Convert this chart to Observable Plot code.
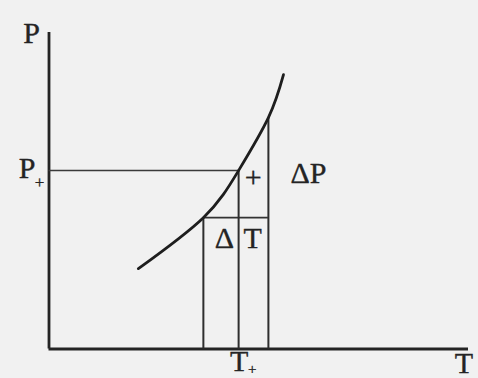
<!DOCTYPE html>
<html>
<head>
<meta charset="utf-8">
<script src="https://cdn.jsdelivr.net/npm/d3@7"></script>
<script src="https://cdn.jsdelivr.net/npm/@observablehq/plot@0.6"></script>
<style>
  html, body { margin: 0; padding: 0; background: #f1f1f1; overflow: hidden; }
  #chart svg { display: block; }
</style>
</head>
<body>
<div id="chart"></div>
<script>
// Vapour-pressure curve P(T) on arbitrary 0–100 axes
const curveT = [21.3, 36.8, 45.2, 52.3, 55.9];
const curveP = [25.4, 41.5, 56.4, 73.1, 86.7];

// Three temperatures bracketing T+ and the pressures on the curve there
const T1 = 36.8, Tplus = 45.2, T2 = 52.3;
const P1 = 41.5, Pplus = 56.4, P2 = 73.1;

const curve = curveT.map((t, i) => ({T: t, P: curveP[i]}));
const verticals = [{T: T1, P: P1}, {T: Tplus, P: Pplus}, {T: T2, P: P2}];

const ink = "#242424";
const font = "Liberation Serif, Times New Roman, serif";

const label = (x, y, text, dx, dy, size = 30) =>
  Plot.text([0], {
    x: () => x, y: () => y, text: () => text,
    dx, dy, fontSize: size, fontFamily: font, fill: ink,
    stroke: ink, strokeWidth: 0.35,
    textAnchor: "middle", lineAnchor: "middle"
  });

const chart = Plot.plot({
  width: 478,
  height: 378,
  marginLeft: 48.5,
  marginRight: 10,
  marginTop: 32,
  marginBottom: 29.5,
  style: {background: "transparent", overflow: "visible"},
  x: {domain: [0, 100], axis: null},
  y: {domain: [0, 100], axis: null},
  marks: [
    // axes
    Plot.ruleX([0], {y1: 0, y2: 100, stroke: ink, strokeWidth: 2.8}),
    Plot.ruleY([0], {x1: 0, x2: 100, stroke: ink, strokeWidth: 2.8}),
    // P+ level out to the curve
    Plot.ruleY([Pplus], {x1: 0, x2: Tplus, stroke: "#3a3a3a", strokeWidth: 1.6}),
    // ΔT step between T1 and T2
    Plot.ruleY([P1], {x1: T1, x2: T2, stroke: "#333", strokeWidth: 1.8}),
    // drop lines from the curve to the T axis
    Plot.ruleX(verticals, {x: "T", y1: 0, y2: "P", stroke: "#2e2e2e", strokeWidth: 2}),
    // the curve itself
    Plot.line(curve, {x: "T", y: "P", curve: "natural", stroke: "#1e1e1e", strokeWidth: 2.8}),
    // labels
    label(0, 100, "P", -17.5, 1),
    label(0, Pplus, "P", -22, -2),
    label(0, Pplus, "+", -9.5, 12.5, 17),
    label(Tplus, Pplus, "+", 14.5, 6.5),
    label(T2, Pplus, "ΔP", 40, 2.5),
    label(T1, P1, "Δ", 21, 20.5),
    label(Tplus, P1, "T", 14, 20.5),
    label(Tplus, 0, "T", 0.5, 12.5),
    label(Tplus, 0, "+", 13.5, 20, 15),
    label(100, 0, "T", -4.5, 14.5)
  ]
});

document.getElementById("chart").append(chart);
</script>
</body>
</html>
